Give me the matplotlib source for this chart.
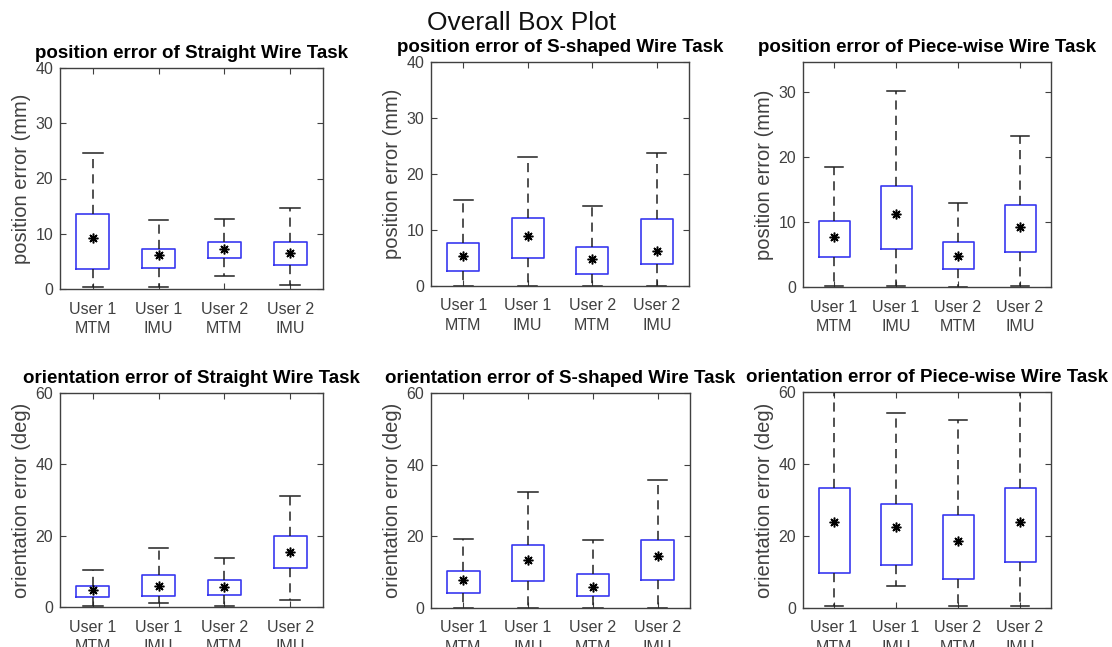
import matplotlib
matplotlib.use("Agg")
import matplotlib.pyplot as plt

plt.rcParams['font.family'] = ['Liberation Sans', 'DejaVu Sans']

categories = ["User 1\nMTM", "User 1\nIMU", "User 2\nMTM", "User 2\nIMU"]

titles = [
    "position error of Straight Wire Task",
    "position error of S-shaped Wire Task",
    "position error of Piece-wise Wire Task",
    "orientation error of Straight Wire Task",
    "orientation error of S-shaped Wire Task",
    "orientation error of Piece-wise Wire Task",
]
ylabels = ["position error (mm)"] * 3 + ["orientation error (deg)"] * 3

# per panel, per category: lower whisker, q1, q3, upper whisker, mean
pos_straight_lo = [0.4, 0.4, 2.4, 0.7]
pos_straight_q1 = [3.6, 3.8, 5.6, 4.3]
pos_straight_q3 = [13.5, 7.3, 8.5, 8.5]
pos_straight_hi = [24.6, 12.5, 12.6, 14.7]
pos_straight_mean = [9.3, 6.1, 7.3, 6.5]

pos_s_lo = [0.0, 0.0, 0.0, 0.0]
pos_s_q1 = [2.7, 5.0, 2.1, 4.0]
pos_s_q3 = [7.7, 12.2, 7.0, 11.9]
pos_s_hi = [15.3, 23.0, 14.2, 23.8]
pos_s_mean = [5.4, 8.9, 4.9, 6.2]

pos_pw_lo = [0.1, 0.1, 0.0, 0.1]
pos_pw_q1 = [4.6, 5.9, 2.7, 5.4]
pos_pw_q3 = [10.2, 15.6, 6.9, 12.6]
pos_pw_hi = [18.5, 30.1, 12.9, 23.2]
pos_pw_mean = [7.7, 11.3, 4.8, 9.2]

ori_straight_lo = [0.2, 1.1, 0.2, 1.9]
ori_straight_q1 = [2.9, 3.2, 3.3, 10.9]
ori_straight_q3 = [6.0, 9.1, 7.5, 20.0]
ori_straight_hi = [10.5, 16.5, 13.7, 31.0]
ori_straight_mean = [4.9, 6.0, 5.6, 15.4]

ori_s_lo = [0.0, 0.0, 0.0, 0.0]
ori_s_q1 = [4.3, 7.6, 3.4, 7.9]
ori_s_q3 = [10.3, 17.6, 9.6, 18.9]
ori_s_hi = [19.3, 32.4, 18.9, 35.8]
ori_s_mean = [7.7, 13.4, 5.9, 14.5]

ori_pw_lo = [0.5, 6.0, 0.5, 0.5]
ori_pw_q1 = [9.7, 12.0, 8.1, 12.9]
ori_pw_q3 = [33.3, 28.8, 25.8, 33.3]
ori_pw_hi = [68.0, 54.2, 52.3, 68.0]
ori_pw_mean = [23.8, 22.5, 18.5, 23.8]

panels = [
    (pos_straight_lo, pos_straight_q1, pos_straight_q3, pos_straight_hi, pos_straight_mean),
    (pos_s_lo, pos_s_q1, pos_s_q3, pos_s_hi, pos_s_mean),
    (pos_pw_lo, pos_pw_q1, pos_pw_q3, pos_pw_hi, pos_pw_mean),
    (ori_straight_lo, ori_straight_q1, ori_straight_q3, ori_straight_hi, ori_straight_mean),
    (ori_s_lo, ori_s_q1, ori_s_q3, ori_s_hi, ori_s_mean),
    (ori_pw_lo, ori_pw_q1, ori_pw_q3, ori_pw_hi, ori_pw_mean),
]
ylims = [(0, 40), (0, 40), (0, 34.6), (0, 60), (0, 60), (0, 60)]
yticks = [[0, 10, 20, 30, 40], [0, 10, 20, 30, 40], [0, 10, 20, 30],
          [0, 20, 40, 60], [0, 20, 40, 60], [0, 20, 40, 60]]

W, H = 1112, 647
# pixel boxes: left, right, top, bottom
boxes_px = [
    (60, 323, 68, 289), (431, 689, 62, 286), (803, 1051, 62, 287),
    (60, 323, 393, 607), (431, 690, 393, 608), (803, 1051, 392, 608),
]

fig = plt.figure(figsize=(W / 100, H / 100), dpi=100)
fig.patch.set_facecolor('white')

gray = '#404040'
for i, (l, r, t, b) in enumerate(boxes_px):
    ax = fig.add_axes([l / W, 1 - b / H, (r - l) / W, (b - t) / H])
    lo, q1, q3, hi, mn = panels[i]
    stats = []
    for k in range(4):
        stats.append(dict(whislo=lo[k], q1=q1[k], med=mn[k], q3=q3[k],
                          whishi=hi[k], mean=mn[k], fliers=[]))
    ax.bxp(stats, positions=[1, 2, 3, 4], widths=0.5, capwidths=0.3,
           showmeans=True, showfliers=False,
           boxprops=dict(color='#3838f0', linewidth=1.2),
           whiskerprops=dict(color='#222222', linewidth=1.1, linestyle=(0, (6, 4))),
           capprops=dict(color='#222222', linewidth=1.1),
           medianprops=dict(linestyle='none'),
           meanprops=dict(marker=(8, 2, 0), markeredgecolor='black',
                          markerfacecolor='black', markersize=7, markeredgewidth=1.1,
                          linestyle='none'))
    ax.set_xlim(0.5, 4.5)
    ax.set_ylim(*ylims[i])
    ax.set_yticks(yticks[i])
    ax.set_xticks([1, 2, 3, 4])
    ax.set_xticklabels(categories, linespacing=1.35)
    ax.tick_params(direction='in', top=True, right=True, length=4, width=0.8,
                   colors=gray, labelsize=11.5, pad=5)
    ax.tick_params(axis='x', pad=9)
    for sp in ax.spines.values():
        sp.set_color(gray)
        sp.set_linewidth(1.0)
    ax.set_title(titles[i], fontsize=13.5, fontweight='bold', color='black', pad=7)
    ax.set_ylabel(ylabels[i], fontsize=14.5, color=gray, labelpad=3)

fig.text(522 / W, 1 - 30 / H, "Overall Box Plot", ha='center', va='baseline',
         fontsize=19, color='#111111')

fig.savefig("out.png", dpi=100, facecolor='white')
